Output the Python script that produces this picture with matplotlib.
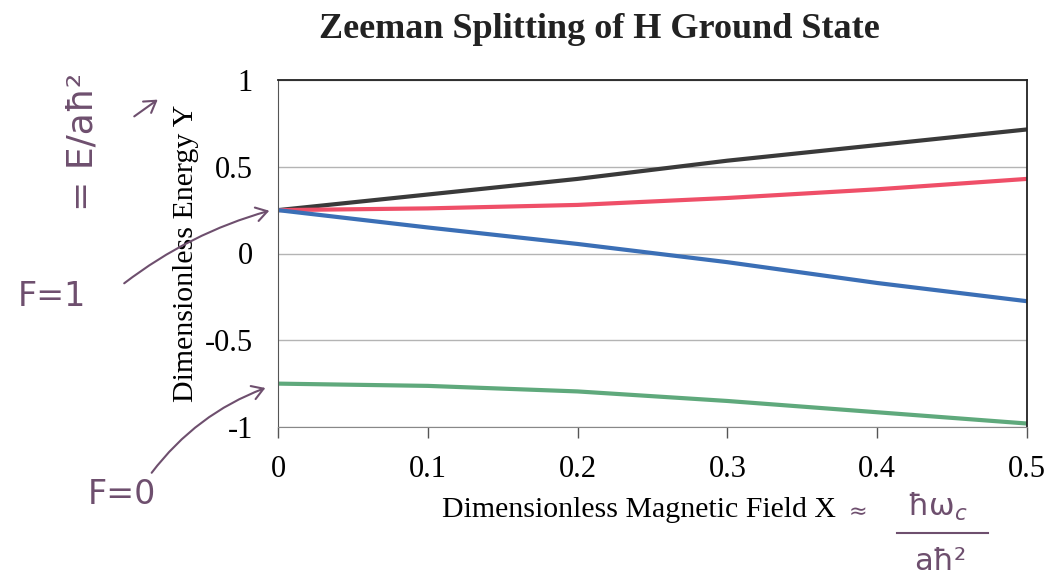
import matplotlib
matplotlib.use("Agg")
import matplotlib.pyplot as plt
from matplotlib.patches import FancyArrowPatch

plt.rcParams['axes.unicode_minus'] = False
plt.rcParams['font.family'] = ['Liberation Serif', 'DejaVu Serif']

# Data
X = [0.0, 0.1, 0.2, 0.3, 0.4, 0.5]
y_black = [0.25, 0.34, 0.43, 0.535, 0.625, 0.715]
y_red = [0.25, 0.26, 0.28, 0.32, 0.37, 0.43]
y_blue = [0.25, 0.15, 0.055, -0.05, -0.17, -0.275]
y_green = [-0.75, -0.763, -0.795, -0.85, -0.915, -0.98]

xticks = [0, 0.1, 0.2, 0.3, 0.4, 0.5]
xtick_labels = ['0', '0.1', '0.2', '0.3', '0.4', '0.5']
yticks = [-1, -0.5, 0, 0.5, 1]
ytick_labels = ['-1', '-0.5', '0', '0.5', '1']

W, H = 1049, 588
fig = plt.figure(figsize=(W / 100, H / 100), dpi=100)
ax = fig.add_axes([278 / W, 1 - 427 / H, (1027 - 278) / W, (427 - 80) / H])

ax.set_xlim(0, 0.5)
ax.set_ylim(-1, 1)
ax.yaxis.grid(True, color='#b4b4b4', linewidth=1.0)
ax.set_axisbelow(True)

ax.plot(X, y_black, color='#3a3a3a', lw=3)
ax.plot(X, y_red, color='#ef4f68', lw=3)
ax.plot(X, y_blue, color='#3b6fb6', lw=3)
ax.plot(X, y_green, color='#5fa97c', lw=3)

ax.set_xticks(xticks)
ax.set_xticklabels(xtick_labels, fontsize=22)
ax.set_yticks(yticks)
ax.set_yticklabels(ytick_labels, fontsize=22)
ax.tick_params(axis='x', direction='out', length=8, width=1, color='#555555', pad=12)
ax.tick_params(axis='y', length=0, pad=18)

for side in ['top', 'right']:
    ax.spines[side].set_color('#222222')
    ax.spines[side].set_linewidth(1.3)
ax.spines['left'].set_color('#555555')
ax.spines['bottom'].set_color('#888888')

ax.set_xlabel('Dimensionless Magnetic Field X', fontsize=21.5)
ax.xaxis.set_label_coords((639 - 278) / (1027 - 278), -(510 - 427) / (427 - 80))
ax.xaxis.label.set_va('center')
ax.set_ylabel('Dimensionless Energy Y', fontsize=21.5, labelpad=4)

fig.text(599 / W, 1 - 30 / H, 'Zeeman Splitting of H Ground State',
         ha='center', va='center', fontsize=26, fontweight='bold', color='#222222')

# Handwritten annotations
hc = '#6e4f6e'
hand = dict(color=hc, family=['DejaVu Sans'])
fig.text(82 / W, 1 - 142 / H, '= E/aħ²', rotation=90, ha='center', va='center', fontsize=26, **hand)
fig.text(52 / W, 1 - 297 / H, 'F=1', ha='center', va='center', fontsize=24, **hand)
fig.text(122 / W, 1 - 495 / H, 'F=0', ha='center', va='center', fontsize=24, **hand)
fig.text(858 / W, 1 - 512 / H, '≈', ha='center', va='center', fontsize=16, **hand)
fig.text(937 / W, 1 - 507 / H, 'ħω$_c$', ha='center', va='center', fontsize=22, **hand)
fig.text(940 / W, 1 - 562 / H, 'aħ²', ha='center', va='center', fontsize=22, **hand)
fig.add_artist(plt.Line2D([897 / W, 988 / W], [1 - 533 / H, 1 - 533 / H], color=hc, lw=1.5))

def arrow(p0, p1, rad=0.0):
    a = FancyArrowPatch((p0[0] / W, 1 - p0[1] / H), (p1[0] / W, 1 - p1[1] / H),
                        transform=fig.transFigure, arrowstyle='->,head_length=8,head_width=5',
                        connectionstyle=f'arc3,rad={rad}', color=hc, lw=1.5)
    fig.add_artist(a)

arrow((122, 285), (272, 210), rad=-0.1)
arrow((150, 475), (268, 387), rad=-0.15)
arrow((132, 118), (160, 98), rad=0.0)

fig.savefig('out.png', dpi=100, facecolor='white')
